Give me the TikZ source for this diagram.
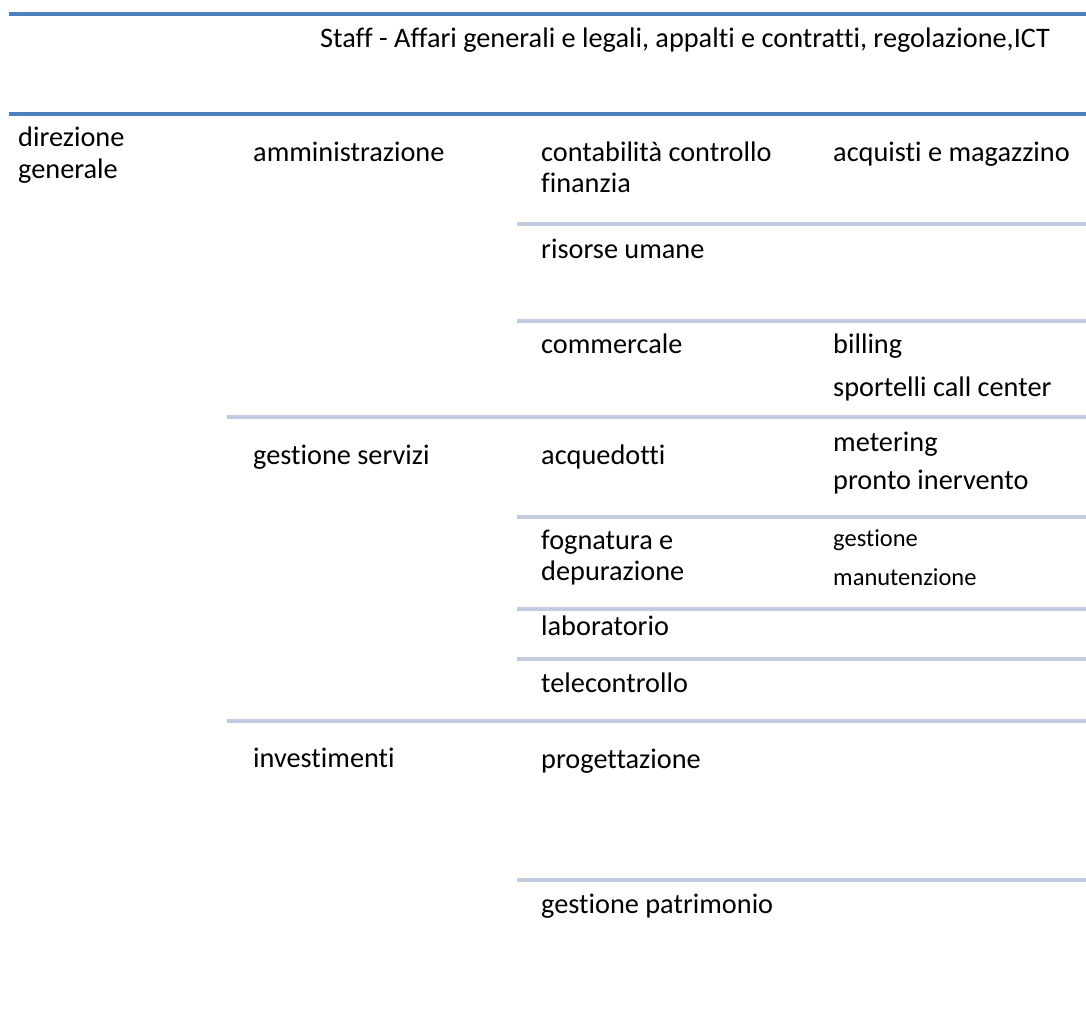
\documentclass[tikz,border=0pt]{standalone}
\usepackage{fontspec}
\setmainfont{Carlito}[Ligatures=NoCommon]
\definecolor{darkline}{RGB}{79,129,189}
\definecolor{lightline}{RGB}{193,204,225}
\tikzset{
  lbl/.style={anchor=base west, inner sep=0pt, font=\fontsize{28.3}{33}\selectfont},
  smalllbl/.style={anchor=base west, inner sep=0pt, font=\fontsize{24.5}{29}\selectfont},
  mainrule/.style={draw=darkline, line width=4.5pt},
  subrule/.style={draw=lightline, line width=4.5pt},
}
\begin{document}
\begin{tikzpicture}[x=1pt,y=-1pt]
\useasboundingbox (0,0) rectangle (1086,1018);
% rules
\draw[mainrule] (9,14) -- (1086,14);
\draw[mainrule] (9,114) -- (1086,114);
\draw[subrule] (517,224) -- (1086,224);
\draw[subrule] (517,321) -- (1086,321);
\draw[subrule] (227,417) -- (1086,417);
\draw[subrule] (517,517) -- (1086,517);
\draw[subrule] (517,609) -- (1086,609);
\draw[subrule] (517,659) -- (1086,659);
\draw[subrule] (227,721) -- (1086,721);
\draw[subrule] (517,880) -- (1086,880);
% staff
\node[lbl] (staff) at (320,47) {Staff - Affari generali e legali, appalti e contratti, regolazione,ICT};
% column 1
\node[lbl] (dir1) at (18,146) {direzione};
\node[lbl] (dir2) at (18,178) {generale};
% column 2
\node[lbl] (amm) at (253,161) {amministrazione};
\node[lbl] (gserv) at (253,464) {gestione servizi};
\node[lbl] (inv) at (253,767) {investimenti};
% column 3
\node[lbl] (cont1) at (541,161) {contabilità controllo};
\node[lbl] (cont2) at (541,192) {finanzia};
\node[lbl] (ris) at (541,258) {risorse umane};
\node[lbl] (comm) at (541,353) {commercale};
\node[lbl] (acq) at (541,464) {acquedotti};
\node[lbl] (fog1) at (541,549) {fognatura e};
\node[lbl] (fog2) at (541,580) {depurazione};
\node[lbl] (lab) at (541,635) {laboratorio};
\node[lbl] (tel) at (541,692) {telecontrollo};
\node[lbl] (prog) at (541,768) {progettazione};
\node[lbl] (patr) at (541,913) {gestione patrimonio};
% column 4
\node[lbl] (acqmag) at (833,161) {acquisti e magazzino};
\node[lbl] (bill) at (833,353) {billing};
\node[lbl] (sport) at (833,396) {sportelli call center};
\node[lbl] (met) at (833,451) {metering};
\node[lbl] (pronto) at (833,489) {pronto inervento};
\node[smalllbl] (gest) at (833,546) {gestione};
\node[smalllbl] (man) at (833,585) {manutenzione};
\end{tikzpicture}
\end{document}
